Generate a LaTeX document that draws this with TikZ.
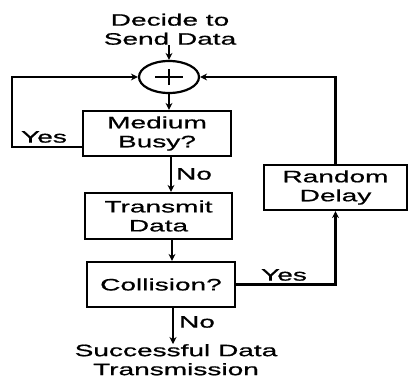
\documentclass[tikz,border=0pt]{standalone}
\usepackage{fontspec}
\setmainfont[FakeStretch=1.7,FakeBold=0.8]{Liberation Sans}
\usetikzlibrary{shapes.geometric,arrows.meta}
\begin{document}
\begin{tikzpicture}[x=1pt,y=-1pt,
  txt/.style={font=\fontsize{16.5}{19}\selectfont, align=center, inner sep=0pt},
  box/.style={draw, line width=2.2pt, inner sep=0pt, font=\fontsize{16.5}{19}\selectfont, align=center},
  arr/.style={line width=2.2pt, -{Stealth[length=7pt,width=7pt]}},
  ln/.style={line width=2.2pt}]
\useasboundingbox (0,0) rectangle (409,383);
\node[txt, anchor=south] (dec) at (170,45) {Decide to\\Send Data};
\node[draw, ellipse, line width=2.2pt, minimum width=60pt, minimum height=32pt, inner sep=0pt] (sum) at (169,77) {};
\draw[ln] ([xshift=-14pt]sum.center) -- ([xshift=14pt]sum.center);
\draw[ln] ([yshift=-8pt]sum.center) -- ([yshift=8pt]sum.center);
\node[box, minimum width=148pt, minimum height=45pt] (busy) at (157,133.5) {Medium\\Busy?};
\node[box, minimum width=147pt, minimum height=46pt] (trans) at (158.5,216) {Transmit\\Data};
\node[box, minimum width=148pt, minimum height=45pt] (coll) at (161,284.5) {Collision?};
\node[box, minimum width=143pt, minimum height=45pt] (delay) at (335.5,187.5) {Random\\Delay};
\node[txt, anchor=north] (succ) at (176,344) {Successful Data\\Transmission};
\coordinate (lx) at (12,147);
\draw[arr] (sum.north |- dec.south) -- (sum.north);
\draw[arr] (sum.south) -- (busy.north -| sum.south);
\draw[arr] (busy.south -| 171,0) -- (trans.north -| 171,0);
\draw[arr] (trans.south -| 172,0) -- (coll.north -| 172,0);
\draw[arr] (coll.south -| 173,0) -- (succ.north -| 173,0);
\draw[arr] (busy.west |- lx) -- (lx) |- (sum.west);
\draw[arr] (delay.north) |- (sum.east);
\draw[arr] (coll.east) -| (delay.south);
\node[txt] (ly) at (44,137) {Yes};
\node[txt] (ln1) at (194,174) {No};
\node[txt] (ry) at (284,275) {Yes};
\node[txt] (ln2) at (197,322) {No};
\end{tikzpicture}
\end{document}
